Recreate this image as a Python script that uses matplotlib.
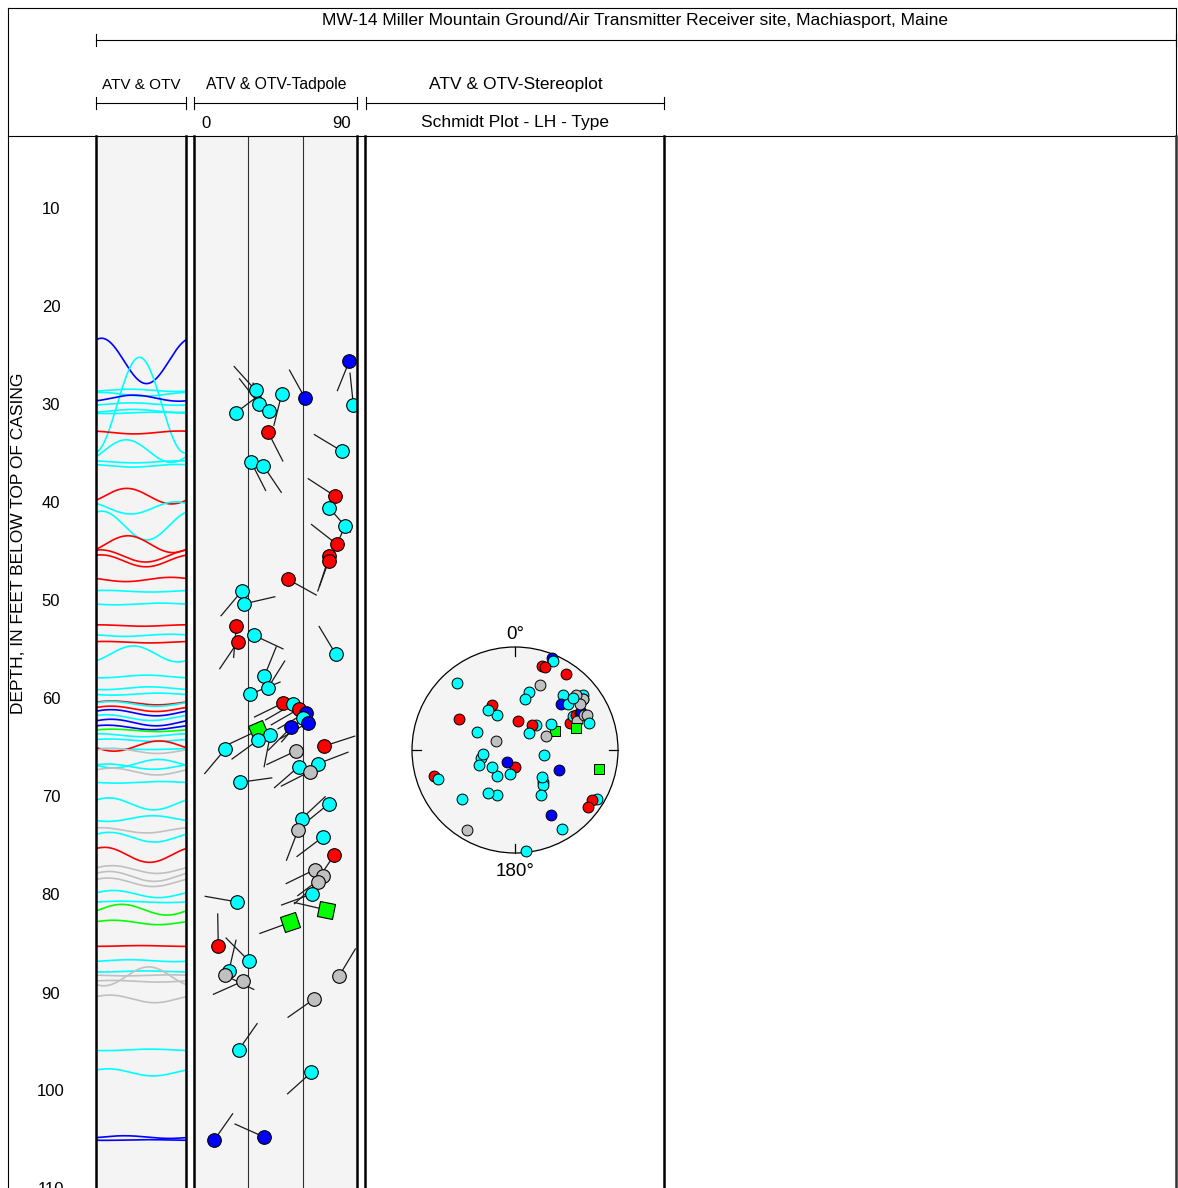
import numpy as np
import matplotlib
matplotlib.use("Agg")
import matplotlib.pyplot as plt
from matplotlib.markers import MarkerStyle
from matplotlib.transforms import Affine2D

plt.rcParams['font.family'] = ['Liberation Sans', 'DejaVu Sans']

# Picked features: depth (ft below top of casing), dip (deg), dip azimuth (deg), class colour
depth = [25.4, 29.9, 28.4, 29.8, 28.8, 30.5, 29.2, 32.7, 34.6, 35.7,
         36.1, 39.2, 40.4, 42.2, 44.1, 45.3, 45.8, 47.7, 48.9, 50.2,
         52.4, 54.1, 53.4, 55.3, 57.6, 58.8, 59.4, 60.3, 60.4, 60.9,
         61.3, 61.8, 62.3, 62.8, 63.1, 63.6, 64.1, 65.0, 64.7, 65.2,
         66.5, 66.8, 67.3, 68.4, 70.6, 72.1, 73.3, 74.0, 75.8, 77.3,
         78.0, 78.6, 79.8, 81.4, 82.7, 80.6, 85.1, 86.6, 87.7, 88.1,
         88.7, 88.2, 90.5, 95.7, 98.0, 104.6, 104.9, 30.7]
dip = [85.8, 88.0, 34.0, 36.0, 48.4, 41.4, 61.3, 41.0, 81.6, 31.5,
       38.3, 77.9, 74.7, 83.4, 78.8, 74.7, 74.4, 52.0, 26.3, 27.4,
       23.4, 24.1, 33.1, 78.2, 38.8, 40.7, 31.1, 49.3, 54.8, 58.0,
       61.7, 60.0, 63.1, 53.6, 35.5, 42.1, 35.3, 17.3, 71.9, 56.3,
       68.5, 57.8, 64.0, 25.4, 74.4, 59.5, 57.4, 71.0, 77.5, 66.8,
       71.4, 68.6, 65.0, 72.7, 53.0, 23.6, 13.4, 30.2, 19.2, 17.1,
       26.9, 80.0, 66.4, 24.7, 64.8, 38.8, 11.2, 23.0]
azimuth = [202, 354, 318, 322, 194, 330, 331, 153, 301, 153,
           146, 303, 139, 203, 308, 198, 200, 119, 220, 77,
           185, 214, 115, 329, 22, 32, 68, 244, 240, 240,
           240, 221, 240, 225, 245, 191, 234, 220, 72, 245,
           69, 229, 243, 82, 231, 47, 201, 233, 214, 244,
           233, 228, 250, 283, 250, 280, 359, 315, 13, 116,
           246, 31, 235, 35, 228, 294, 35, 53]
ftype = ['blue', 'cyan', 'cyan', 'cyan', 'cyan', 'cyan', 'blue', 'red', 'cyan', 'cyan',
         'cyan', 'red', 'cyan', 'cyan', 'red', 'red', 'red', 'red', 'cyan', 'cyan',
         'red', 'red', 'cyan', 'cyan', 'cyan', 'cyan', 'cyan', 'red', 'cyan', 'red',
         'blue', 'cyan', 'blue', 'blue', 'green', 'cyan', 'cyan', 'cyan', 'red', 'gray',
         'cyan', 'cyan', 'gray', 'cyan', 'cyan', 'cyan', 'gray', 'cyan', 'red', 'gray',
         'gray', 'gray', 'cyan', 'green', 'green', 'cyan', 'red', 'cyan', 'cyan', 'gray',
         'gray', 'gray', 'gray', 'cyan', 'cyan', 'blue', 'blue', 'cyan']

depth_ticks = [10, 20, 30, 40, 50, 60, 70, 80, 90, 100, 110]

COLORS = {'blue': '#0000ff', 'cyan': '#00ffff', 'red': '#ff0000',
          'gray': '#c0c0c0', 'green': '#00ff00'}
HOLE_RADIUS = 0.17          # ft, sets sinusoid amplitude
TRACK_BG = '#f4f4f4'

W, H = 1178, 1188
PX_PER_FT = 9.8
Y_ZERO = 112                # pixel row of 0 ft
D_TOP = (136 - Y_ZERO) / PX_PER_FT
D_BOT = (H - Y_ZERO) / PX_PER_FT

fig = plt.figure(figsize=(W / 100, H / 100), dpi=100)


def px_axes(x0, y0, x1, y1, **kw):
    return fig.add_axes([x0 / W, 1 - y1 / H, (x1 - x0) / W, (y1 - y0) / H], **kw)


def bare(ax):
    ax.set_xticks([])
    ax.set_yticks([])
    for s in ax.spines.values():
        s.set_visible(False)


depth = np.array(depth)
dip = np.array(dip)
azimuth = np.array(azimuth)

# --- unrolled borehole wall: sinusoids ---
ax_s = px_axes(96, 136, 186, H, facecolor=TRACK_BG)
ax_s.set_xlim(0, 360)
ax_s.set_ylim(D_BOT, D_TOP)
bare(ax_s)
az_grid = np.linspace(0, 360, 181)
for d, dp, az, t in zip(depth, dip, azimuth, ftype):
    amp = HOLE_RADIUS * np.tan(np.radians(dp))
    ax_s.plot(az_grid, d + amp * np.cos(np.radians(az_grid - az)),
              color=COLORS[t], lw=1.2)

for d in depth_ticks:
    ax_s.text(-0.5, d, str(d), transform=ax_s.get_yaxis_transform(),
              ha='center', va='center', fontsize=12, clip_on=False)
fig.text(19 / W, 1 - 543 / H, 'DEPTH, IN FEET BELOW TOP OF CASING',
         rotation=90, ha='center', va='center', fontsize=12.5)

# --- tadpoles ---
TAIL = 32                   # px
ax_t = px_axes(194, 136, 357, H, facecolor=TRACK_BG)
ax_t.set_xlim(0, 90)
ax_t.set_ylim(D_BOT, D_TOP)
bare(ax_t)
for v in (30, 60):
    ax_t.axvline(v, color='#303030', lw=0.8, zorder=1)
x_per_px = 90 / 163
for d, dp, az, t in zip(depth, dip, azimuth, ftype):
    a = np.radians(az)
    ax_t.plot([dp, dp + TAIL * np.sin(a) * x_per_px],
              [d, d - TAIL * np.cos(a) / PX_PER_FT],
              color='#1a1a1a', lw=0.9, zorder=2)
for d, dp, az, t in zip(depth, dip, azimuth, ftype):
    if t == 'green':
        m = MarkerStyle('s', transform=Affine2D().rotate_deg(-(az % 90)))
        ax_t.plot(dp, d, marker=m, ms=11, mfc=COLORS[t], mec='black',
                  mew=0.8, zorder=3)
    else:
        ax_t.plot(dp, d, 'o', ms=9.8, mfc=COLORS[t], mec='black',
                  mew=0.8, zorder=3)

# --- stereonet: poles to planes, lower hemisphere, equal area ---
R_PX = 103
LIM = 120 / R_PX
ax_n = px_axes(515 - 120, 750 - 120, 515 + 120, 750 + 120)
ax_n.set_xlim(-LIM, LIM)
ax_n.set_ylim(-LIM, LIM)
ax_n.set_aspect('equal')
ax_n.axis('off')
ax_n.add_patch(plt.Circle((0, 0), 1, facecolor=TRACK_BG, edgecolor='black',
                          lw=0.9, zorder=1))
for ang in (0, 90, 180, 270):
    a = np.radians(ang)
    ax_n.plot([0.91 * np.sin(a), np.sin(a)], [0.91 * np.cos(a), np.cos(a)],
              color='black', lw=0.9, zorder=1)
trend = np.radians(azimuth + 180)
rad = np.sqrt(2) * np.sin(np.radians(dip) / 2)
px, py = rad * np.sin(trend), rad * np.cos(trend)
for x, y, t in zip(px, py, ftype):
    ax_n.plot(x, y, 's' if t == 'green' else 'o', ms=7.8, mfc=COLORS[t],
              mec='black', mew=0.7, zorder=3)
ax_n.text(0, 1.117, '0°', ha='center', va='center', fontsize=13.5)
ax_n.text(0, -1.175, '180°', ha='center', va='center', fontsize=13.5)

# --- frame, header and track borders ---
ax_f = fig.add_axes([0, 0, 1, 1], zorder=5)
ax_f.set_xlim(0, W)
ax_f.set_ylim(H, 0)
ax_f.axis('off')
k = dict(color='black', lw=0.8)
ax_f.plot([8, 8], [8, H], **k)
ax_f.plot([8, 1176], [8, 8], **k)
ax_f.plot([1176, 1176], [8, 136], **k)
ax_f.plot([8, 1176], [136, 136], **k)
ax_f.plot([1175.5, 1175.5], [136, H], color='#333333', lw=1.8)
for x in (96, 186, 194, 357, 365, 664):
    ax_f.plot([x, x], [136, H], color='black', lw=1.8)


def bar(x0, x1, y):
    ax_f.plot([x0, x1], [y, y], **k)
    ax_f.plot([x0, x0], [y - 6, y + 6], **k)
    ax_f.plot([x1, x1], [y - 6, y + 6], **k)


ax_f.text(635, 20, 'MW-14 Miller Mountain Ground/Air Transmitter Receiver site, Machiasport, Maine',
          ha='center', va='center', fontsize=12.5)
bar(96, 1176, 40)
bar(96, 186, 103)
bar(194, 357, 103)
bar(366, 664, 103)
ax_f.text(141, 85, 'ATV & OTV', ha='center', va='center', fontsize=11)
ax_f.text(276, 85, 'ATV & OTV-Tadpole', ha='center', va='center', fontsize=11.3)
ax_f.text(516, 85, 'ATV & OTV-Stereoplot', ha='center', va='center', fontsize=12.5)
ax_f.text(206, 123, '0', ha='center', va='center', fontsize=12)
ax_f.text(342, 123, '90', ha='center', va='center', fontsize=12)
ax_f.text(515, 123, 'Schmidt Plot - LH - Type', ha='center', va='center', fontsize=12.5)

fig.savefig('out.png', dpi=100)
